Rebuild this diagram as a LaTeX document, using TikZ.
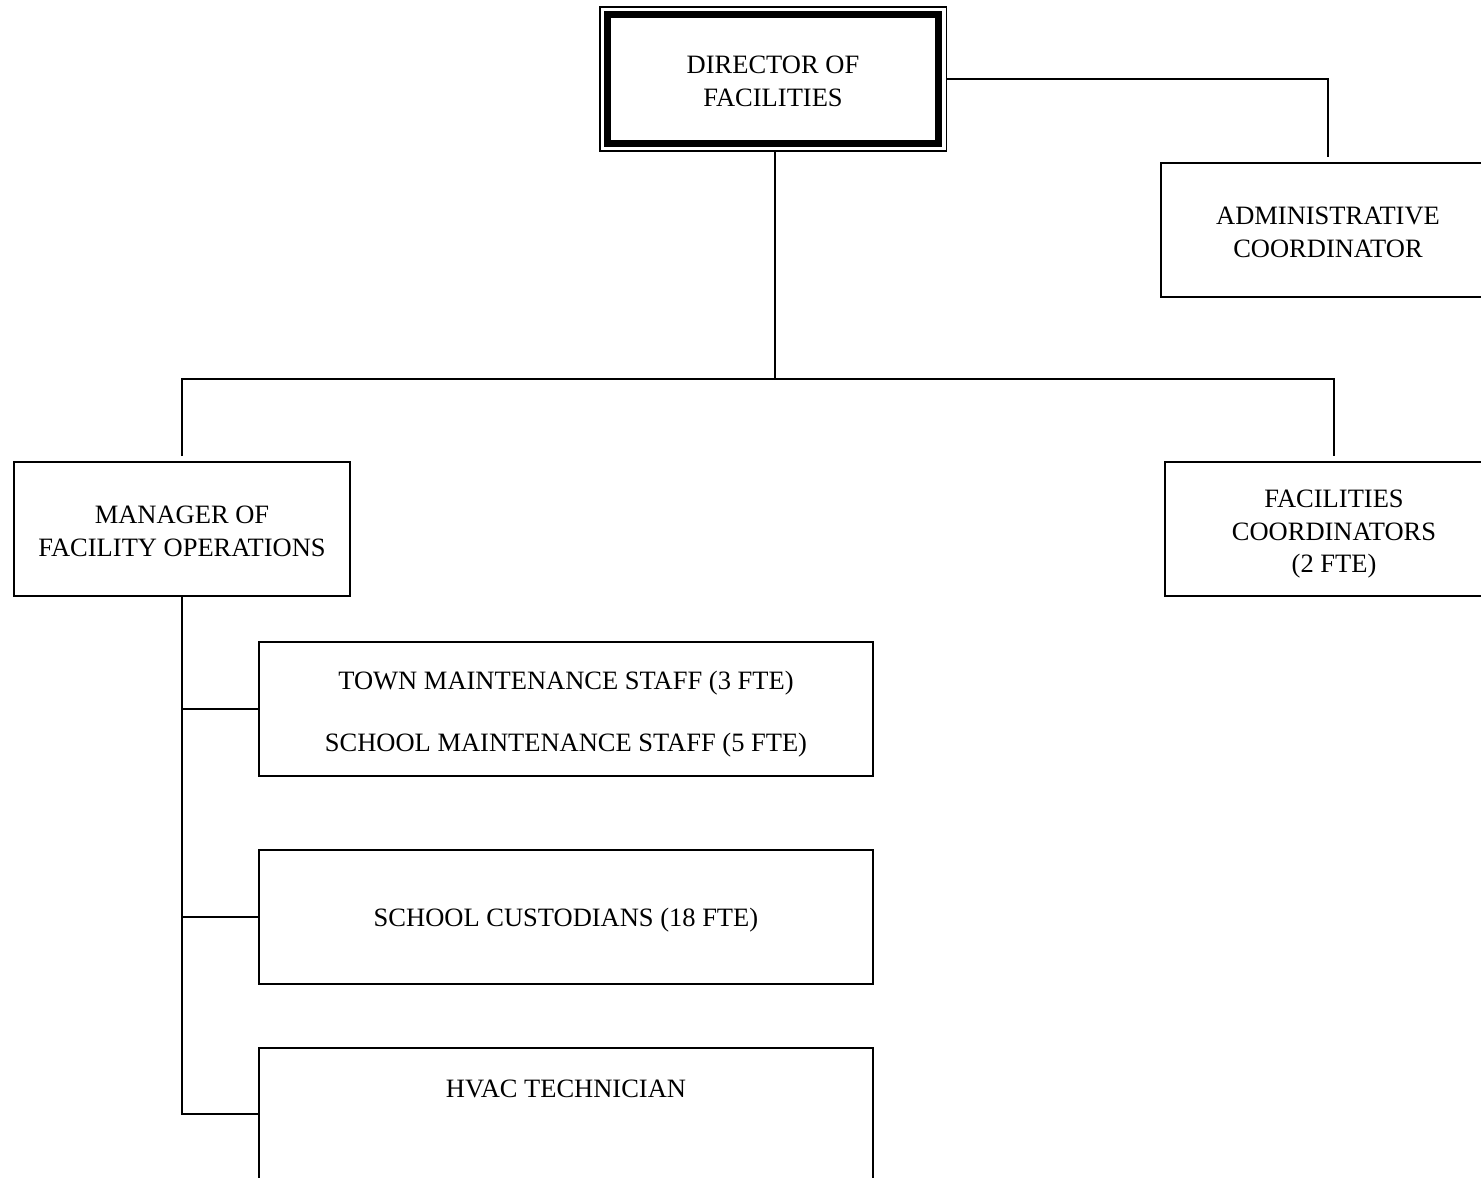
\documentclass[tikz,border=0pt]{standalone}
\usepackage{fontspec}
\setmainfont{Liberation Serif}
\usetikzlibrary{calc,fit}
% strut that sets the height of the first text line in a box
\newcommand\firstline{\rule{0pt}{28pt}}
\begin{document}
\begin{tikzpicture}[x=1pt,y=-1pt,
  box/.style={draw=black, line width=1.3pt, align=center, inner sep=0pt, outer sep=0pt,
              font=\fontsize{26.5}{32.5}\selectfont,
              execute at end node={\rule[-6pt]{0pt}{0pt}}},
  label/.style={align=center, inner sep=0pt, outer sep=0pt, font=\fontsize{26.5}{32.5}\selectfont},
  link/.style={draw=black, line width=2pt}]
\useasboundingbox (0,0) rectangle (1481,1178);
\clip (0,0) rectangle (1481,1178);

% top of the chart: double-framed director box
\node[box, line width=7pt, minimum width=331.5pt, minimum height=129pt] (dir) at (773,79) {\firstline DIRECTOR OF\\FACILITIES};
\node[draw=black, line width=1.5pt, fit=(dir), inner sep=7.5pt, outer sep=0pt] (dirout) {};

% second row
\node[box, minimum width=334pt, minimum height=134pt] (admin) at (1328,230) {\firstline ADMINISTRATIVE\\COORDINATOR};
\node[box, minimum width=336pt, minimum height=134pt] (mgr) at (182,529) {\firstline MANAGER OF\\FACILITY OPERATIONS};
\node[box, minimum width=338pt, minimum height=134pt] (fac) at (1334,529) {\firstline FACILITIES\\COORDINATORS\\(2 FTE)};

% staff reporting to the manager
\node[box, minimum width=614pt, minimum height=134pt] (maint) at (566,709) {\firstline TOWN MAINTENANCE STAFF (3 FTE)\\[29.5pt]SCHOOL MAINTENANCE STAFF (5 FTE)};
\node[box, minimum width=614pt, minimum height=134pt] (cust) at (566,917) {\rule{0pt}{25.5pt}SCHOOL CUSTODIANS (18 FTE)};
\node[box, minimum width=614pt, minimum height=160pt, anchor=north] (hvac) at (566,1048) {};
\node[label] (hvactext) at (566,1089) {HVAC TECHNICIAN};

% connectors
\coordinate (hub) at (775,379);
\coordinate (hvacin) at (259,1114);
\draw[link] (dirout.east) -| ($(admin.north)+(0,-6)$);
\draw[link] (dirout.south -| hub) -- (hub);
\draw[link] ($(mgr.north)+(0,-6)$) |- (hub) -| ($(fac.north)+(0,-6)$);
\draw[link] (mgr.south) |- (hvacin);
\draw[link] (mgr.south |- maint.west) -- (maint.west);
\draw[link] (mgr.south |- cust.west) -- (cust.west);
\end{tikzpicture}
\end{document}
